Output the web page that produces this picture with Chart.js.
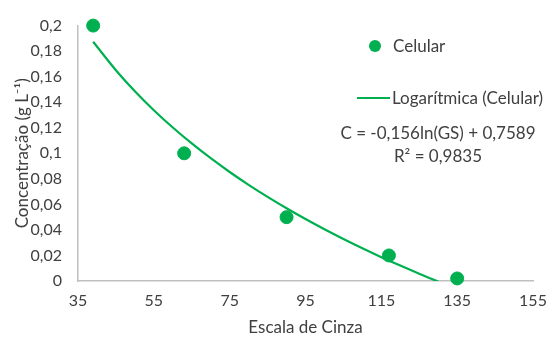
<!DOCTYPE html>
<html>
<head>
<meta charset="utf-8">
<script src="https://cdn.jsdelivr.net/npm/chart.js@4"></script>
<style>
  body { margin: 0; background: #fff; }
  #wrap { position: relative; width: 548px; height: 338px; font-family: Lato, "Open Sans", sans-serif; color: #404040; }
  .lbl { position: absolute; font-size: 17px; line-height: 20px; white-space: nowrap; }
  .dot { position: absolute; width: 12px; height: 12px; border-radius: 50%; background: #00B050; }
  .ln { position: absolute; height: 2px; background: #00B050; }
</style>
</head>
<body>
<div id="wrap">
  <canvas id="chart" width="548" height="338"></canvas>
  <div class="dot" style="left:369px; top:40px;"></div>
  <div class="lbl" style="left:393px; top:36px;">Celular</div>
  <div class="ln" style="left:357px; top:97px; width:33px;"></div>
  <div class="lbl" style="left:392px; top:88px;">Logarítmica (Celular)</div>
  <div class="lbl" style="left:338px; top:123px; width:200px; text-align:center;">C = -0,156ln(GS) + 0,7589</div>
  <div class="lbl" style="left:338px; top:146px; width:200px; text-align:center;">R² = 0,9835</div>
</div>
<script>
// measured points
const grayScale = [39, 63, 90, 117, 135];
const concentration = [0.2, 0.1, 0.05, 0.02, 0.002];

// logarithmic fit: C = a*ln(GS) + b
const fitCoef = [-0.156, 0.7589];
const fitX = [39, 45, 50, 55, 60, 65, 70, 75, 80, 85, 90, 95, 100, 105, 110, 115, 120, 125, 130];

const xTicks = [35, 55, 75, 95, 115, 135, 155];

const green = '#00B050';
const textColor = '#404040';
const axisColor = '#BFBFBF';

const fmt = v => String(+v.toFixed(2)).replace('.', ',');

new Chart(document.getElementById('chart'), {
    type: 'scatter',
    data: {
        datasets: [{
            label: 'Celular',
            data: grayScale.map((x, i) => ({ x: x, y: concentration[i] })),
            backgroundColor: green,
            borderColor: green,
            pointRadius: 6.5,
            pointHoverRadius: 6.5,
            clip: false,
            order: 1
        }, {
            label: 'Logarítmica (Celular)',
            data: fitX.map(x => ({ x: x, y: fitCoef[0] * Math.log(x) + fitCoef[1] })),
            showLine: true,
            borderColor: green,
            borderWidth: 2.2,
            pointRadius: 0,
            tension: 0.4,
            order: 2
        }]
    },
    options: {
        responsive: false,
        animation: false,
        layout: { autoPadding: false, padding: { top: 24, right: 15, left: 0, bottom: 0 } },
        plugins: { legend: { display: false }, tooltip: { enabled: false } },
        scales: {
            x: {
                type: 'linear',
                min: 35,
                max: 155,
                afterBuildTicks: s => { s.ticks = xTicks.map(v => ({ value: v })); },
                // tick padding would otherwise also widen the right margin
                afterFit: s => { s.height = 57; s.paddingRight = 0; s.paddingLeft = 0; },
                grid: { display: false, drawTicks: false },
                border: { color: axisColor, width: 1.5 },
                ticks: { color: textColor, font: { family: 'Lato', size: 16 }, padding: 10 },
                title: { display: true, text: 'Escala de Cinza', color: textColor, font: { family: 'Lato', size: 17 }, padding: { top: 0, bottom: 0 } }
            },
            y: {
                min: 0,
                max: 0.2,
                afterFit: s => { s.width = 78; },
                grid: { display: false, drawTicks: false },
                border: { color: axisColor, width: 1.5 },
                ticks: { stepSize: 0.02, color: textColor, font: { family: 'Lato', size: 16 }, padding: 16, callback: fmt },
                title: { display: true, text: 'Concentração (g L⁻¹)', color: textColor, font: { family: 'Lato', size: 17 }, padding: { top: 12, bottom: 0 } }
            }
        }
    }
});
</script>
</body>
</html>
